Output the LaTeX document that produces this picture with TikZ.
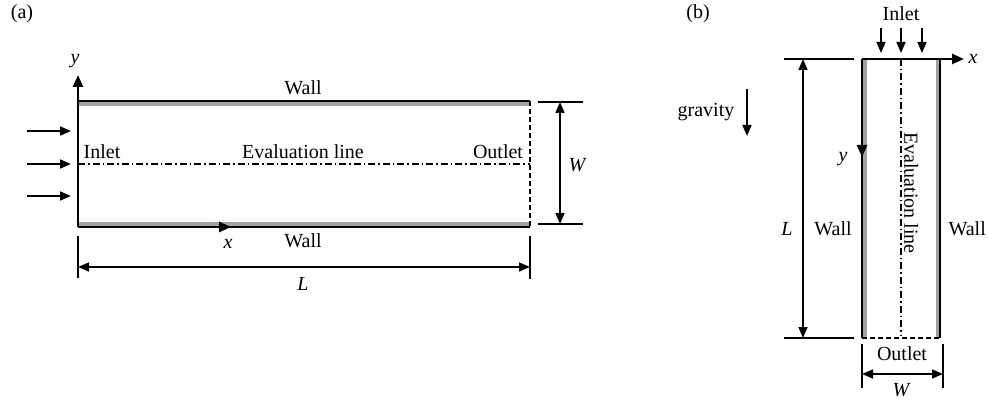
\documentclass[tikz,border=0pt]{standalone}
\usepackage{fontspec}
\setmainfont{Liberation Serif}
\usepackage{xcolor}
\usetikzlibrary{arrows.meta, positioning, calc}
\definecolor{wallgray}{RGB}{165, 160, 160}
\tikzset{
  lbl/.style={font=\fontsize{20}{24}\selectfont, inner sep=0pt},
  mathlbl/.style={lbl, font=\fontsize{20}{24}\selectfont\itshape},
  wallline/.style={draw=black, line width=2.6pt},
  wallshade/.style={draw=wallgray, line width=4pt},
  axisline/.style={draw=black, line width=2.6pt, -{Triangle[length=12pt, width=10pt]}},
  flowline/.style={draw=black, line width=1.6pt, -{Triangle[length=11pt, width=9pt]}},
  dimline/.style={draw=black, line width=1.6pt,
    {Triangle[length=11pt, width=9pt]}-{Triangle[length=11pt, width=9pt]}},
  extline/.style={draw=black, line width=1.6pt},
  evalline/.style={draw=black, line width=1.2pt, dash pattern=on 7pt off 3pt on 1.5pt off 3pt},
  outletline/.style={draw=black, line width=1.6pt, dash pattern=on 5pt off 3pt}
}

\begin{document}
\begin{tikzpicture}[x=1pt, y=-1pt]
  \useasboundingbox (0,0) rectangle (988,401);

  % Panel (a): horizontal channel
  \node[lbl] (alabel) at (22,14) {(a)};
  \coordinate (atl) at (78,101);
  \coordinate (atr) at (530,101);
  \coordinate (abl) at (78,227);
  \coordinate (abr) at (530,227);
  \coordinate (atopin) at (78,104);
  \coordinate (atopout) at (530,104);
  \coordinate (abotin) at (78,224);
  \coordinate (abotout) at (530,224);
  \coordinate (ayend) at (78,75);
  \coordinate (axend) at (231,227);
  \coordinate (aevalin) at (78,164);
  \coordinate (aevalout) at (530,164);

  \draw[wallshade] (atopin) -- (atopout);
  \draw[wallshade] (abotin) -- (abotout);
  \draw[wallline] (atl) -- (atr);
  \draw[wallline] (abl) -- (abr);
  \draw[outletline] (atr) -- (abr);
  \draw[evalline] (aevalin) -- (aevalout);
  \draw[axisline] (abl) -- (ayend);
  \draw[axisline] (abl) -- (axend);

  \foreach \yy [count=\i] in {131,164,196} {
    \coordinate (ainfrom\i) at (27,\yy);
    \coordinate (ainto\i) at (71,\yy);
    \draw[flowline] (ainfrom\i) -- (ainto\i);
  }

  \node[mathlbl] (ay) at (75,61) {y};
  \node[mathlbl] (ax) at (228,244) {x};
  \node[lbl] (awalltop) at (303,88) {Wall};
  \node[lbl] (awallbot) at (303,241) {Wall};
  \node[lbl] (ainlet) at (102,152) {Inlet};
  \node[lbl] (aeval) at (303,152) {Evaluation line};
  \node[lbl] (aoutlet) at (498,152) {Outlet};

  % W dimension
  \coordinate (awt1) at (538,102);
  \coordinate (awt2) at (583,102);
  \coordinate (awb1) at (538,224);
  \coordinate (awb2) at (583,224);
  \coordinate (awa) at (560,102);
  \coordinate (awb) at (560,224);
  \draw[extline] (awt1) -- (awt2);
  \draw[extline] (awb1) -- (awb2);
  \draw[dimline] (awa) -- (awb);
  \node[mathlbl] (aw) at (577,165) {W};

  % L dimension
  \coordinate (alt1) at (78,236);
  \coordinate (alt2) at (78,278);
  \coordinate (alr1) at (530,236);
  \coordinate (alr2) at (530,279);
  \coordinate (ala) at (78,267);
  \coordinate (alb) at (530,267);
  \draw[extline] (alt1) -- (alt2);
  \draw[extline] (alr1) -- (alr2);
  \draw[dimline] (ala) -- (alb);
  \node[mathlbl] (al) at (303,284) {L};

  % Panel (b): vertical channel
  \node[lbl] (blabel) at (698,14) {(b)};
  \coordinate (btl) at (862,59);
  \coordinate (btr) at (940,59);
  \coordinate (bbl) at (862,338);
  \coordinate (bbr) at (940,338);
  \coordinate (bltop) at (865,59);
  \coordinate (blbot) at (865,338);
  \coordinate (brtop) at (938,59);
  \coordinate (brbot) at (938,338);
  \coordinate (bxend) at (964,59);
  \coordinate (byend) at (862,157);
  \coordinate (bevaltop) at (901,59);
  \coordinate (bevalbot) at (901,335);

  \draw[wallshade] (bltop) -- (blbot);
  \draw[wallshade] (brtop) -- (brbot);
  \draw[wallline] (btl) -- (bbl);
  \draw[wallline] (btr) -- (bbr);
  \draw[outletline] (bbl) -- (bbr);
  \draw[evalline] (bevaltop) -- (bevalbot);
  \draw[axisline] (btl) -- (bxend);
  \draw[axisline] (btl) -- (byend);

  \foreach \xx [count=\i] in {881,901,922} {
    \coordinate (binfrom\i) at (\xx,28);
    \coordinate (binto\i) at (\xx,53);
    \draw[flowline] (binfrom\i) -- (binto\i);
  }

  \node[lbl] (binlet) at (901,14) {Inlet};
  \node[mathlbl] (bx) at (973,59) {x};
  \node[mathlbl] (by) at (843,159) {y};
  \node[lbl, rotate=-90, anchor=south] (beval) at (904,193) {Evaluation line};
  \node[lbl] (bwallleft) at (833,229) {Wall};
  \node[lbl, anchor=east] (bwallright) at (986,229) {Wall};
  \node[lbl] (boutlet) at (902,354) {Outlet};

  % gravity
  \node[lbl] (bgrav) at (706,112) {gravity};
  \coordinate (bgtop) at (747,89);
  \coordinate (bgbot) at (747,136);
  \draw[flowline] (bgtop) -- (bgbot);

  % L dimension
  \coordinate (blt1) at (784,59);
  \coordinate (blt2) at (854,59);
  \coordinate (blb1) at (784,338);
  \coordinate (blb2) at (854,338);
  \coordinate (bla) at (803,59);
  \coordinate (blb) at (803,338);
  \draw[extline] (blt1) -- (blt2);
  \draw[extline] (blb1) -- (blb2);
  \draw[dimline] (bla) -- (blb);
  \node[mathlbl] (bl) at (787,229) {L};

  % W dimension
  \coordinate (bwl1) at (862,344);
  \coordinate (bwl2) at (862,388);
  \coordinate (bwr1) at (943,344);
  \coordinate (bwr2) at (943,388);
  \coordinate (bwa) at (862,374);
  \coordinate (bwb) at (943,374);
  \draw[extline] (bwl1) -- (bwl2);
  \draw[extline] (bwr1) -- (bwr2);
  \draw[dimline] (bwa) -- (bwb);
  \node[mathlbl] (bw) at (901,390) {W};

\end{tikzpicture}
\end{document}
